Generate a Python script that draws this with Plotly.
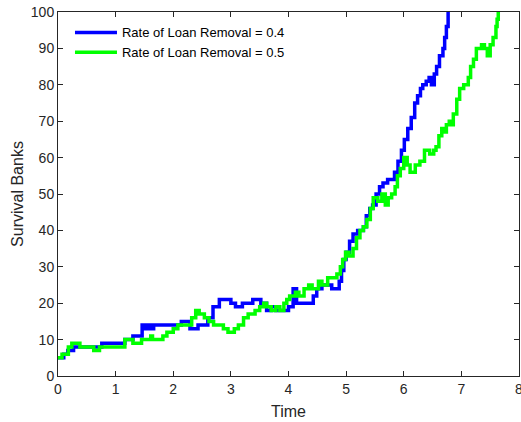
import plotly.graph_objects as go

# ---- data ----
blue_name = "Rate of Loan Removal = 0.4"
blue_t = [0.00, 0.10, 0.17, 0.27, 0.76, 1.16, 1.30, 1.46, 1.51, 1.56, 1.61, 1.66,
          2.14, 2.29, 2.43, 2.60, 2.69, 2.80, 3.00, 3.08, 3.20, 3.38, 3.52, 3.62,
          3.70, 3.78, 4.00, 4.08, 4.14, 4.43, 4.49, 4.58, 4.75, 4.88, 4.92, 4.96,
          5.00, 5.06, 5.12, 5.20, 5.30, 5.35, 5.41, 5.46, 5.52, 5.58, 5.64, 5.72,
          5.84, 5.90, 5.96, 6.01, 6.07, 6.13, 6.19, 6.24, 6.29, 6.33, 6.39, 6.44,
          6.48, 6.53, 6.57, 6.62, 6.68, 6.71, 6.74, 6.77]
blue_v = [5, 6, 7, 8, 9, 10, 11, 14, 13, 14, 13, 14,
          15, 13, 14, 16, 19, 21, 20, 19, 20, 21, 20, 18,
          19, 18, 19, 24, 20, 22, 24, 25, 24, 26, 29, 32,
          34, 37, 39, 40, 41, 44, 46, 47, 50, 52, 53, 54,
          56, 59, 62, 65, 68, 71, 75, 77, 79, 80, 81, 82,
          80, 83, 85, 88, 90, 93, 96, 100]

green_name = "Rate of Loan Removal = 0.5"
green_t = [0.00, 0.07, 0.18, 0.24, 0.38, 0.62, 0.72, 1.16, 1.30, 1.45, 1.61, 1.64,
           1.82, 1.89, 2.00, 2.08, 2.32, 2.39, 2.45, 2.54, 2.62, 2.70, 2.87, 2.95,
           3.06, 3.13, 3.22, 3.30, 3.42, 3.50, 3.57, 3.62, 3.70, 3.78, 3.85, 3.92,
           3.97, 4.02, 4.12, 4.18, 4.27, 4.35, 4.41, 4.52, 4.58, 4.68, 4.84, 4.90,
           4.94, 4.99, 5.05, 5.12, 5.18, 5.24, 5.30, 5.36, 5.42, 5.47, 5.55, 5.62,
           5.68, 5.73, 5.79, 5.85, 5.89, 5.94, 6.00, 6.06, 6.11, 6.20, 6.28, 6.36,
           6.45, 6.52, 6.56, 6.61, 6.66, 6.70, 6.74, 6.79, 6.82, 6.86, 6.92, 6.97,
           7.04, 7.12, 7.16, 7.21, 7.26, 7.35, 7.40, 7.45, 7.50, 7.55, 7.60, 7.62,
           7.64]
green_v = [5, 6, 8, 9, 8, 7, 8, 10, 9, 10, 11, 10,
           11, 12, 13, 14, 16, 18, 17, 16, 15, 14, 13, 12,
           13, 14, 16, 17, 18, 19, 20, 19, 18, 19, 18, 20,
           21, 22, 23, 22, 24, 25, 24, 26, 25, 27, 28, 30,
           32, 34, 33, 35, 38, 40, 41, 43, 46, 49, 48, 50,
           47, 49, 50, 52, 55, 57, 60, 58, 56, 58, 59, 62,
           61, 62, 63, 66, 68, 67, 69, 70, 69, 72, 76, 79,
           80, 82, 85, 87, 90, 91, 90, 88, 91, 93, 96, 98,
           100]

x_ticks = [0, 1, 2, 3, 4, 5, 6, 7, 8]
y_ticks = [0, 10, 20, 30, 40, 50, 60, 70, 80, 90, 100]
x_title = "Time"
y_title = "Survival Banks"

FONT = "Liberation Sans, Arial"

fig = go.Figure()
fig.add_trace(go.Scatter(x=blue_t, y=blue_v, mode="lines", name=blue_name,
                         line=dict(color="#0000ff", width=3.5, shape="hv")))
fig.add_trace(go.Scatter(x=green_t, y=green_v, mode="lines", name=green_name,
                         line=dict(color="#00ff00", width=3.5, shape="hv")))

axis_common = dict(showline=True, mirror="ticks", linecolor="#262626", linewidth=1,
                   ticks="inside", ticklen=5, tickcolor="#262626", showgrid=False,
                   zeroline=False, ticklabeloverflow="allow", automargin=False,
                   tickfont=dict(family=FONT, size=14, color="#262626"))

fig.update_layout(
    width=521, height=422,
    margin=dict(l=58, r=2, t=12, b=46),
    paper_bgcolor="white", plot_bgcolor="white",
    font=dict(family=FONT, color="#262626"),
    xaxis=dict(range=[0, 8], tickvals=x_ticks,
               title=dict(text=x_title, font=dict(size=16, color="#262626"), standoff=10),
               **axis_common),
    yaxis=dict(range=[0, 100], tickvals=y_ticks,
               title=dict(text=y_title, font=dict(size=16, color="#262626"), standoff=3),
               **axis_common),
    legend=dict(x=0.026, y=0.985, xanchor="left", yanchor="top",
                bgcolor="rgba(0,0,0,0)", borderwidth=0,
                font=dict(family=FONT, size=13, color="#000000"),
                itemwidth=42, tracegroupgap=0),
    showlegend=True,
)

fig.write_html("out.html")
